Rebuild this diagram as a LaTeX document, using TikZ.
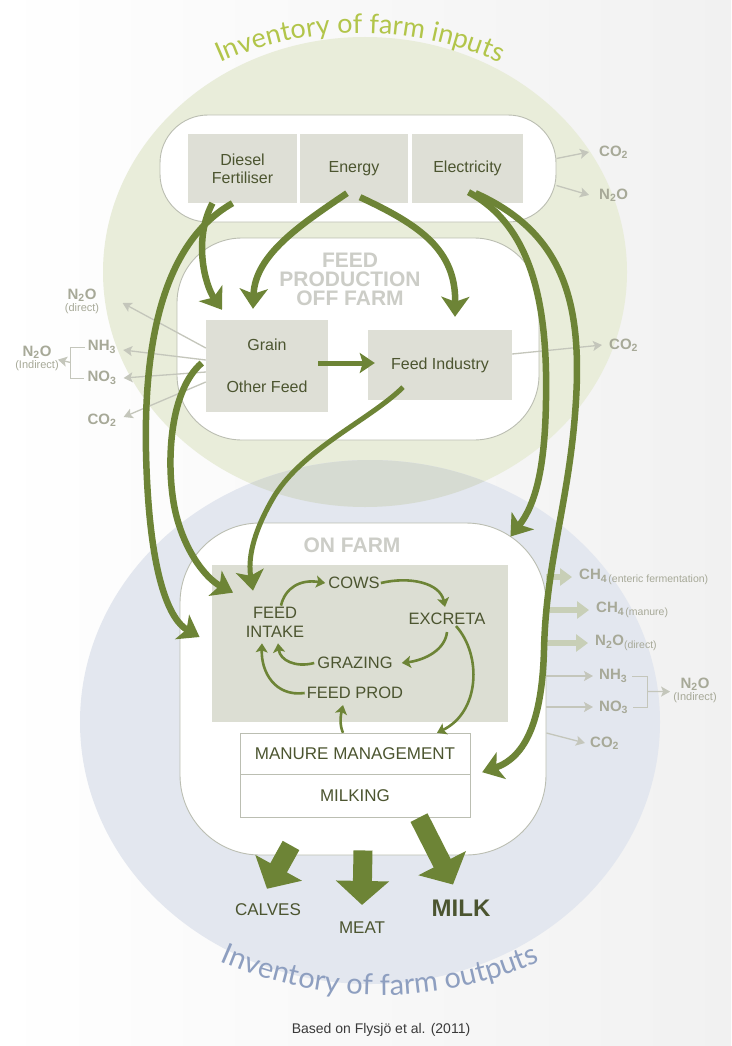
\documentclass[tikz,border=0pt]{standalone}
\usepackage{fontspec}
\setmainfont{Liberation Sans}
\newfontfamily\arcfont{Lato}
\usepackage{xcolor}
\usetikzlibrary{positioning,calc,arrows.meta,decorations.text}
\tikzset{>=latex}
\definecolor{leaf}{HTML}{6D8436}
\definecolor{ink}{HTML}{4C5530}
\definecolor{boxgray}{HTML}{DEDFD6}
\definecolor{farmgray}{HTML}{DCDED3}
\definecolor{emitgray}{HTML}{A7A998}
\definecolor{emitline}{HTML}{C4C6BB}
\definecolor{emitthick}{HTML}{C8CFB7}
\definecolor{rimgray}{HTML}{BBBEB2}
\definecolor{inputbg}{HTML}{E9EDDA}
\definecolor{outputbg}{HTML}{E3E7EF}
\definecolor{overlapbg}{HTML}{D6DBD2}
\definecolor{inputtitle}{HTML}{B2C54A}
\definecolor{outputtitle}{HTML}{8E9FC0}
\definecolor{zonegray}{HTML}{CCCDC7}
\definecolor{edgegray}{HTML}{F1F1F1}
\definecolor{capgray}{HTML}{3A3A3A}
\newcommand{\pts}[2]{\fontsize{#1}{#2}\selectfont}

\begin{document}
\begin{tikzpicture}[x=1pt,y=-1pt,
      % define styles
      zone/.style={draw=rimgray, fill=white, line width=0.9pt, rounded corners=#1, inner sep=0pt},
      srcbox/.style={fill=boxgray, text=ink, align=center, inner sep=0pt, font=\pts{16}{18}},
      stage/.style={text=ink, align=center, inner sep=1pt, font=\pts{16.5}{19}},
      zonetitle/.style={text=zonegray, align=center, font=\bfseries\pts{21}{19}},
      gas/.style={text=emitgray, font=\bfseries\pts{15}{15}, inner sep=1pt},
      note/.style={text=emitgray, font=\pts{11}{11}, inner sep=1pt},
      bigflow/.style={draw=leaf, line width=6.5pt, -{Stealth[width=28pt,length=20pt,inset=5pt]}},
      midflow/.style={draw=leaf, line width=5pt, -{Stealth[width=20pt,length=15pt,inset=3pt]}},
      smallflow/.style={draw=leaf, line width=2.6pt, -{Stealth[width=12pt,length=9pt,inset=2pt]}},
      outflow/.style={draw=leaf, line width=19pt, -{Triangle[width=52pt,length=24pt]}},
      emit/.style={draw=emitline, line width=1.3pt, -{Stealth[width=10pt,length=9pt,inset=2pt]}},
      emitfat/.style={draw=emitthick, line width=6pt, -{Triangle[width=17pt,length=12pt]}},
      bracket/.style={draw=emitline, line width=1pt}
  ]
  % page, inventory discs
  \useasboundingbox (0,0) rectangle (731,1046);
  \shade[left color=white, right color=edgegray] (0,0) rectangle (731,1046);
  \fill[inputbg] (365,272) ellipse [x radius=262, y radius=235];
  \fill[outputbg] (370,722) ellipse [x radius=290, y radius=262];
  \begin{scope}
    \clip (365,272) ellipse [x radius=262, y radius=235];
    \fill[overlapbg] (370,722) ellipse [x radius=290, y radius=262];
  \end{scope}

  % process zones
  \node[zone=48pt, minimum width=396pt, minimum height=107pt] (inputs) at (358,168.5) {};
  \node[zone=65pt, minimum width=362pt, minimum height=202pt] (offfarm) at (358,339) {};
  \node[zone=80pt, minimum width=366pt, minimum height=332pt] (onfarm) at (363,689) {};
  \node[zonetitle] (offtitle) at (350,279) {FEED\\PRODUCTION\\OFF FARM};
  \node[zonetitle] (ontitle) at (352,545) {ON FARM};

  % input and feed boxes
  \node[srcbox, minimum width=109pt, minimum height=69pt] (diesel) at (242.5,168.5) {Diesel\\Fertiliser};
  \node[srcbox, minimum width=108pt, minimum height=69pt] (energy) at (354,168.5) {Energy};
  \node[srcbox, minimum width=111pt, minimum height=69pt] (elec) at (467.5,168.5) {Electricity};
  \node[srcbox, minimum width=122pt, minimum height=92pt, font=\pts{16}{42}] (grain) at (267,366) {Grain\\Other Feed};
  \node[srcbox, minimum width=144pt, minimum height=70pt] (feedind) at (440,365) {Feed Industry};

  % emissions of inputs
  \node[gas, anchor=west] (co2in) at (598,152) {CO\textsubscript{2}};
  \node[gas, anchor=west] (n2oin) at (598,195) {N\textsubscript{2}O};
  \draw[emit] ([yshift=10]inputs.east) -- ([xshift=-9]co2in.west);
  \draw[emit] ([yshift=-17]inputs.east) -- ([xshift=-9]n2oin.west);
  \node[gas, anchor=west] (co2feed) at (608,345) {CO\textsubscript{2}};
  \draw[emit] ([yshift=11]feedind.east) -- ([xshift=-6]co2feed.west);

  % emissions of feed production
  \node[gas] (n2odir) at (82,295) {N\textsubscript{2}O};
  \node[note, below=0pt of n2odir] (n2odirnote) {(direct)};
  \node[gas] (nh3off) at (102,347) {NH\textsubscript{3}};
  \node[gas] (no3off) at (102,378) {NO\textsubscript{3}};
  \node[gas] (co2off) at (102,420) {CO\textsubscript{2}};
  \node[gas] (n2oind) at (37,352) {N\textsubscript{2}O};
  \node[note, below=0pt of n2oind] (n2oindnote) {(Indirect)};
  \draw[emit] ([yshift=18]grain.west) -- ([xshift=25,yshift=-8]n2odir.east);
  \draw[emit] ([yshift=6]grain.west) -- ([xshift=6,yshift=-3]nh3off.east);
  \draw[emit] ([yshift=-6]grain.west) -- ([xshift=6]no3off.east);
  \draw[emit] ([yshift=-16]grain.west) -- ([xshift=6,yshift=3]co2off.east);
  \draw[bracket] ([xshift=-2]nh3off.west) -- ++(-14,0) |- ([xshift=-2]no3off.west);
  \draw[emit] ($(nh3off.west)!0.5!(no3off.west)+(-16,0)$) -- ([xshift=-2]n2oindnote.north east);

  % on farm
  \node[fill=farmgray, minimum width=296pt, minimum height=157pt, inner sep=0pt] (farmyard) at (360,643.5) {};
  \node[draw=rimgray, fill=white, text=ink, font=\pts{17}{17}, minimum width=230pt, minimum height=41pt, inner sep=0pt] (manure) at (355,753.5) {MANURE MANAGEMENT};
  \node[draw=rimgray, fill=white, text=ink, font=\pts{17}{17}, minimum width=230pt, minimum height=43pt, inner sep=0pt, below=0pt of manure] (milking) {MILKING};
  \node[stage] (intake) at (275,622) {FEED\\INTAKE};
  \node[stage] (cows) at (354,583) {COWS};
  \node[stage] (excreta) at (447,619) {EXCRETA};
  \node[stage] (grazing) at (355,663) {GRAZING};
  \node[stage] (feedprod) at (355,693) {FEED PROD};

  % emissions on farm
  \node[gas, anchor=west] (ch4ent) at (578,577) {CH\textsubscript{4\,\mdseries(enteric fermentation)}};
  \node[gas, anchor=west] (ch4man) at (595,610) {CH\textsubscript{4\,\mdseries(manure)}};
  \node[gas, anchor=west] (n2odr) at (594,643) {N\textsubscript{2}O\textsubscript{\mdseries(direct)}};
  \node[gas, anchor=west] (nh3on) at (598,676) {NH\textsubscript{3}};
  \node[gas, anchor=west] (no3on) at (598,707) {NO\textsubscript{3}};
  \node[gas, anchor=west] (co2on) at (589,743) {CO\textsubscript{2}};
  \node[gas] (n2oindon) at (695,684) {N\textsubscript{2}O};
  \node[note, below=0pt of n2oindon] (n2oindonnote) {(Indirect)};
  \draw[emitfat] (onfarm.east |- ch4ent.west) -- ([xshift=-6]ch4ent.west);
  \draw[emitfat] (onfarm.east |- ch4man.west) -- ([xshift=-6]ch4man.west);
  \draw[emitfat] (onfarm.east |- n2odr.west) -- ([xshift=-6]n2odr.west);
  \draw[emit] (onfarm.east |- nh3on.west) -- ([xshift=-5]nh3on.west);
  \draw[emit] (onfarm.east |- no3on.west) -- ([xshift=-5]no3on.west);
  \draw[emit] ($(onfarm.east |- co2on.west)+(0,-10)$) -- ([xshift=-4]co2on.west);
  \draw[bracket] ([xshift=4]nh3on.east) -- ++(15,0) |- ([xshift=4]no3on.east);
  \draw[emit] ($(nh3on.east)!0.5!(no3on.east)+(19,0)$) -- ([xshift=-2]n2oindonnote.north west);

  % inputs to feed production and farm
  \draw[bigflow] ([xshift=-30]diesel.south) .. controls (193,240) and (205,285) .. ([xshift=-45,yshift=10]grain.north);
  \draw[bigflow] ([xshift=-10]diesel.south) .. controls (150,250) and (142,380) .. (147,480)
      .. controls (152,580) and (170,620) .. ([xshift=20,yshift=52]onfarm.west);
  \draw[bigflow] ([xshift=-7,yshift=10]energy.south) .. controls (300,225) and (255,255) .. ([xshift=-14,yshift=11]grain.north);
  \draw[bigflow] ([xshift=6,yshift=6]energy.south) .. controls (420,225) and (456,250) .. ([xshift=15,yshift=13]feedind.north);
  \draw[midflow] ([xshift=-10,yshift=3]grain.east) -- ([xshift=7,yshift=2]feedind.west);
  \draw[bigflow] ([xshift=-4,yshift=3]grain.west) .. controls (170,390) and (166,460) .. (174,505)
      .. controls (182,548) and (205,578) .. ([xshift=-42,yshift=13]intake.north);
  \draw[bigflow, line width=5pt] ([xshift=-37,yshift=13]feedind.south) .. controls (370,420) and (300,450) .. (272,500)
      .. controls (252,535) and (248,560) .. ([xshift=-22,yshift=15]intake.north);
  \draw[bigflow] ([xshift=1,yshift=11]elec.south) .. controls (530,225) and (548,300) .. (546,400)
      .. controls (545,470) and (535,505) .. ([xshift=-36,yshift=-14]onfarm.north east);
  \draw[bigflow] ([xshift=8,yshift=10]elec.south) .. controls (562,232) and (582,300) .. (576,400)
      .. controls (570,500) and (546,560) .. (544,650)
      .. controls (542,720) and (526,757) .. ([xshift=12,yshift=2]manure.south east);

  % farm cycle
  \draw[smallflow] ([xshift=6]intake.north) .. controls (285,588) and (300,579) .. ([xshift=-2]cows.west);
  \draw[smallflow] (cows.east) .. controls (410,576) and (440,583) .. ([xshift=-2,yshift=5]excreta.north);
  \draw[smallflow] ([yshift=-6]excreta.south) .. controls (445,650) and (425,660) .. ([xshift=8]grazing.east);
  \draw[smallflow] ([xshift=-2]grazing.west) .. controls (295,668) and (280,660) .. ([xshift=3,yshift=-5]intake.south);
  \draw[smallflow] ([xshift=-1]feedprod.west) .. controls (275,697) and (261,672) .. ([xshift=-13,yshift=-5]intake.south);
  \draw[smallflow] ([xshift=-12]manure.north) .. controls (339,724) and (341,714) .. ([xshift=-12,yshift=-5]feedprod.south);
  \draw[smallflow] ([xshift=9]excreta.south) .. controls (482,655) and (480,712) .. ([xshift=82]manure.north);

  % farm outputs
  \node[text=ink, font=\pts{17}{17}, inner sep=1pt] (calves) at (268,910) {CALVES};
  \node[text=ink, font=\pts{17}{17}, inner sep=1pt] (meat) at (362,928) {MEAT};
  \node[text=ink, font=\bfseries\pts{24}{24}, inner sep=1pt] (milk) at (461,908) {MILK};
  \draw[outflow] ([xshift=-72,yshift=10]onfarm.south) -- ([xshift=-1,yshift=14]calves.north);
  \draw[outflow] ([yshift=5]onfarm.south) -- ([yshift=16]meat.north);
  \draw[outflow] ([xshift=64]milking.south) -- ([xshift=-8,yshift=14]milk.north);

  % curved titles and source
  \path[decorate, decoration={text along path, text align=center, text color=inputtitle,
      text={|\arcfont\pts{27}{27}|Inventory of farm inputs}}]
      (360,378) ++(215:345) arc [start angle=215, end angle=325, radius=345];
  \path[decorate, decoration={text along path, text align=center, text color=outputtitle,
      text={|\arcfont\pts{29}{29}|Inventory of farm outputs}}]
      (380,598) ++(150:397) arc [start angle=150, end angle=30, radius=397];
  \node[text=capgray, font=\pts{14}{14}] (credit) at (381,1030) {Based on Flysjö et al. (2011)};
\end{tikzpicture}
\end{document}
